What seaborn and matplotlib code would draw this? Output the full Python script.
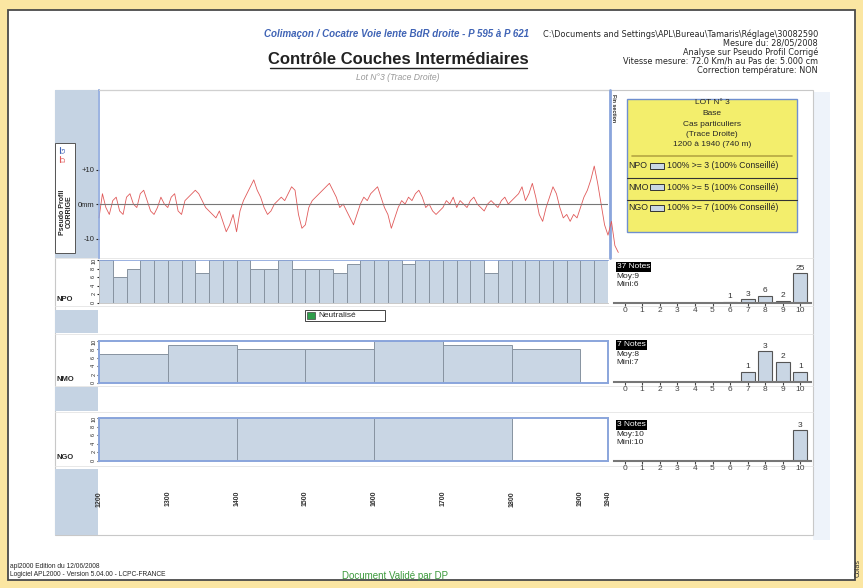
import numpy as np
import pandas as pd
import seaborn as sns
import matplotlib.pyplot as plt
from matplotlib.patches import Rectangle

sns.set_style('white')
plt.rcParams['font.family'] = ['Liberation Sans', 'DejaVu Sans']

W, H = 863, 588

# pseudo profile (mm), one reading every 5 m from 1200 m
profile_start = 1200
profile_step = 5
profile_mm = [
    -4, 3, -1, -3, 1, 2, -2, -3, 2, 3, 0, -1, 3, 4, 1, -2, -3, -1, 2, 0,
    -1, 2, 3, -2, -3, 1, 2, 3, 4, 3, 1, -1, -2, -3, -4, -2, -5, -8, -6, -3,
    -8, -2, 1, 3, 5, 7, 4, 2, -1, -3, -2, 0, 1, 2, 1, 3, 5, 4, -3, -7,
    -6, -1, 1, 2, 3, 4, 5, 6, 4, 2, -1, 0, -2, -4, -6, -3, 0, 2, 1, 3,
    4, 5, 2, -1, -3, -7, -4, -1, 1, 0, 2, 1, 3, 4, 2, -1, 0, -2, -3, -2,
    -1, 1, 0, 2, -1, 1, 0, -1, 1, 2, 0, -1, -2, 0, 1, 0, -1, 1, 2, 0,
    1, 2, 3, 5, 1, 3, 6, 2, -3, -5, -1, 2, 5, 3, -1, -4, -3, -5, -3, -4,
    -1, 2, 4, 7, 11, 6, 0, -6, -9, -5, -12, -14,
]

# notes per segment
npo_notes = [10, 6, 8, 10, 10, 10, 10, 7, 10, 10, 10, 8, 8, 10, 8, 8, 8, 7, 9,
             10, 10, 10, 9, 10, 10, 10, 10, 10, 7, 10, 10, 10, 10, 10, 10, 10, 10]
nmo_notes = [7, 9, 8, 8, 10, 9, 8]
ngo_notes = [10, 10, 10]
npo_len, nmo_len, ngo_len = 20, 100, 200
lot_start, lot_end = 1200, 1940
dist_ticks = [1200, 1300, 1400, 1500, 1600, 1700, 1800, 1900, 1940]
seuils = ['100% >= 3 (100% Conseillé)', '100% >= 5 (100% Conseillé)', '100% >= 7 (100% Conseillé)']

BAR = '#c9d6e4'
COL = '#c5d3e3'
BLUE = '#8aa5dc'

fig = plt.figure(figsize=(W / 100, H / 100), dpi=100)
fig.patch.set_facecolor('#fbe6a2')


def pax(x0, y0, x1, y1):
    return fig.add_axes([x0 / W, 1 - y1 / H, (x1 - x0) / W, (y1 - y0) / H])


# base layer in pixel coordinates
base = pax(0, 0, W, H)
base.set_xlim(0, W)
base.set_ylim(H, 0)
base.axis('off')
base.set_zorder(0)


def rect(x0, y0, x1, y1, **kw):
    base.add_patch(Rectangle((x0, y0), x1 - x0, y1 - y0, **kw))


rect(8, 10, 855, 580, fc='white', ec='#4a4a4a', lw=1.3)
rect(813, 92, 830, 540, fc='#eef3fa', ec='none')
rect(55, 90, 813, 535, fc='white', ec='#c8c8c8', lw=0.8)
rect(55, 90, 98, 258, fc=COL, ec='none')
rect(55, 143, 75, 253, fc='white', ec='#555555', lw=0.7)
for y0, y1 in [(310, 333), (387, 411), (469, 535)]:
    rect(55, y0, 98, y1, fc=COL, ec='none')
for y in [258, 306, 334, 386, 412, 466]:
    base.plot([55, 813], [y, y], color='#e4e4e4', lw=0.6)

# header
base.text(396, 34, 'Colimaçon / Cocatre Voie lente BdR droite - P 595 à P 621', color='#3f63b5',
          fontsize=7, fontweight='bold', style='italic', ha='center', va='center')
base.text(818, 34, 'C:\\Documents and Settings\\APL\\Bureau\\Tamaris\\Réglage\\30082590',
          fontsize=5.9, ha='right', va='center', family='DejaVu Sans')
for i, s in enumerate(['Mesure du: 28/05/2008', 'Analyse sur Pseudo Profil Corrigé',
                       'Vitesse mesure: 72.0 Km/h au Pas de: 5.000 cm', 'Correction température: NON']):
    base.text(818, 43 + 9 * i, s, fontsize=5.9, ha='right', va='center', family='DejaVu Sans')
base.text(398, 59, 'Contrôle Couches Intermédiaires', fontsize=12, fontweight='bold',
          ha='center', va='center', color='#222222')
base.plot([270, 527], [68, 68], color='#222222', lw=1)
base.text(398, 77, 'Lot N°3 (Trace Droite)', fontsize=6.2, style='italic', color='#999999',
          ha='center', va='center')

# profile legend box
base.plot([60, 60], [147, 153], color='#3f63b5', lw=0.8)
base.text(64, 150, 'G', fontsize=5, rotation=90, color='#3f63b5', ha='center', va='center')
base.plot([60, 60], [156, 162], color='#e05a5a', lw=0.8)
base.text(64, 159, 'D', fontsize=5, rotation=90, color='#e05a5a', ha='center', va='center')
base.text(66, 212, 'Pseudo Profil\nCORRIGE', fontsize=5, rotation=90, ha='center', va='center',
          fontweight='bold', linespacing=0.9)

# pseudo profile
dists = profile_start + profile_step * np.arange(len(profile_mm))
prof_df = pd.DataFrame({'dist': dists, 'mm': profile_mm})
ax = pax(99, 90, 608, 258)
ax.set_facecolor('none')
sns.lineplot(data=prof_df, x='dist', y='mm', color='#e05a5a', lw=0.6, estimator=None, ax=ax)
ax.lines[-1].set_clip_on(False)
ax.axhline(0, color='#777777', lw=0.8)
ax.set_xlim(lot_start, lot_end)
ax.set_ylim(-15.6, 33)
ax.set_xticks([])
ax.set_yticks([-10, 0, 10], ['-10', '0mm', '+10'])
ax.tick_params(axis='y', labelsize=5.5, length=2, pad=1, left=True)
ax.set_xlabel('')
ax.set_ylabel('')
for s in ['right', 'bottom']:
    ax.spines[s].set_visible(False)
ax.spines['top'].set_color('#d0d0d0')
ax.spines['left'].set_color(BLUE)
ax.spines['left'].set_linewidth(1.2)
base.plot([610, 610], [90, 258], color=BLUE, lw=2)
base.text(613, 108, 'Fin section', fontsize=3.8, rotation=270, ha='center', va='center',
          fontweight='bold')


def strip(notes, seg, y0, y1, label, framed):
    edges = [lot_start + seg * i for i in range(len(notes) + 1)]
    seg_df = pd.DataFrame({'pos': [e + seg / 2 for e in edges[:-1]], 'note': notes})
    a = pax(99, y0, 608, y1)
    a.set_facecolor('none')
    sns.histplot(data=seg_df, x='pos', weights='note', bins=edges, color=BAR,
                 edgecolor='#8793a0', linewidth=0.7, alpha=1, ax=a)
    a.set_xlim(lot_start, lot_end)
    a.set_ylim(0, 10)
    a.set_xticks([])
    a.set_yticks(range(0, 11, 2))
    a.tick_params(axis='y', labelsize=4, length=1.5, pad=0.5, labelrotation=90, left=True)
    a.set_xlabel('')
    a.set_ylabel('')
    for s in a.spines.values():
        s.set_color(BLUE if framed else '#c0c0c0')
        s.set_linewidth(1.4 if framed else 0.6)
    if not framed:
        a.spines['top'].set_color(BLUE)
        a.spines['right'].set_visible(False)
    base.text(56, y1, label, fontsize=5.5, ha='left', va='bottom', fontweight='bold')


strip(npo_notes, npo_len, 260, 303, 'NPO', False)
strip(nmo_notes, nmo_len, 341, 383, 'NMO', True)
strip(ngo_notes, ngo_len, 418, 461, 'NGO', True)

# neutralise legend
rect(305, 310, 385, 321, fc='white', ec='#444444', lw=0.7)
rect(307, 312, 315, 319, fc='#2e9e4a', ec='#444444', lw=0.5)
base.text(318, 315.5, 'Neutralisé', fontsize=6, ha='left', va='center')

# distance labels
dx = pax(99, 469, 608, 535)
dx.set_xlim(lot_start, lot_end)
dx.axis('off')
for d in dist_ticks:
    dx.text(d, 0.55, str(d), transform=dx.get_xaxis_transform(), rotation=90, fontsize=5,
            ha='center', va='center', fontweight='bold', color='#333333')


def histo(notes, y0, y1, ty):
    h = pax(614, y0, 811, y1)
    h.set_facecolor('none')
    sns.histplot(x=notes, discrete=True, shrink=0.8, color=BAR, edgecolor='#555555',
                 linewidth=0.8, alpha=1, ax=h)
    h.bar_label(h.containers[0], fmt='{:.0f}', fontsize=6, padding=1, color='#333333')
    h.set_xlim(-0.6, 10.6)
    h.set_ylim(0, max(np.bincount(notes)) * 1.5)
    h.set_xticks(range(11))
    h.set_yticks([])
    h.tick_params(axis='x', labelsize=6, length=2, pad=1, colors='#444444', bottom=True)
    h.set_xlabel('')
    h.set_ylabel('')
    for s in ['left', 'right', 'top']:
        h.spines[s].set_visible(False)
    h.spines['bottom'].set_color('#777777')
    h.spines['bottom'].set_linewidth(1.5)
    base.text(617, ty, f'{len(notes)} Notes', fontsize=6, color='white', ha='left', va='center',
              bbox=dict(facecolor='black', edgecolor='none', pad=0.8))
    base.text(616, ty + 10, f'Moy:{round(np.mean(notes))}', fontsize=6, ha='left', va='center')
    base.text(616, ty + 18, f'Mini:{min(notes)}', fontsize=6, ha='left', va='center')


histo(npo_notes, 258, 303, 267)
histo(nmo_notes, 336, 382, 345)
histo(ngo_notes, 415, 461, 425)

# lot box
rect(627, 99, 797, 232, fc='#f3ee6c', ec='#6f8fcf', lw=1)
for i, s in enumerate(['LOT N° 3', 'Base', 'Cas particuliers', '(Trace Droite)',
                       f'{lot_start} à {lot_end} ({lot_end - lot_start} m)']):
    base.text(712, 103 + 10.5 * i, s, fontsize=6, ha='center', va='center')
base.plot([632, 792], [156, 156], color='#b5a642', lw=1.2)
for y in [178, 200]:
    base.plot([627, 797], [y, y], color='#333333', lw=0.8)
for i, (lab, s) in enumerate(zip(['NPO', 'NMO', 'NGO'], seuils)):
    y = 166 + 21 * i
    base.text(628, y, lab, fontsize=6.3, ha='left', va='center')
    rect(650, y - 3, 664, y + 3, fc=BAR, ec='#333333', lw=0.7)
    base.text(667, y, s, fontsize=6.3, ha='left', va='center')

# footer
base.text(10, 566, 'apl2000 Edition du 12/06/2008', fontsize=4.8, ha='left', va='center')
base.text(10, 575, 'Logiciel APL2000 - Version 5.04.00 - LCPC-FRANCE', fontsize=4.8, ha='left',
          va='center')
base.text(395, 576, 'Document Validé par DP', fontsize=7, color='#3c9a3c', ha='center', va='center')
base.text(858, 568, 'Colas', fontsize=5, rotation=90, ha='center', va='center', color='#333333')

fig.savefig('out.png', dpi=100)
